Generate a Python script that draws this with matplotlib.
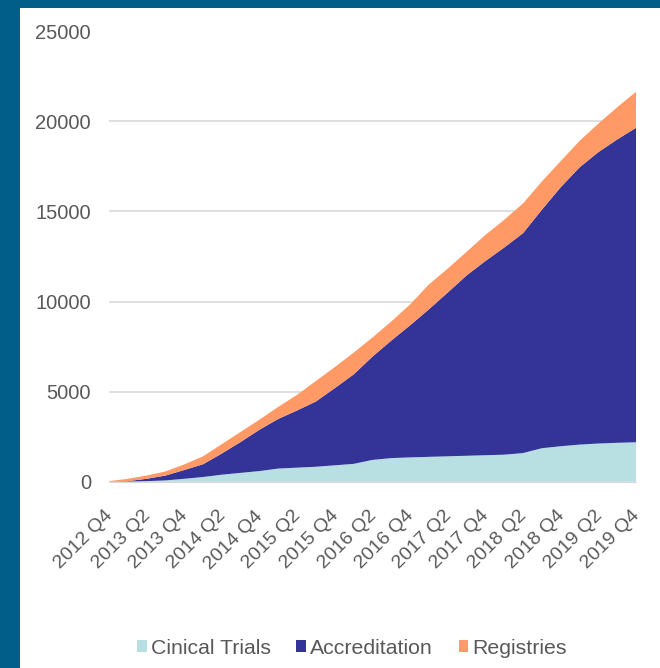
import numpy as np
import matplotlib.pyplot as plt
from matplotlib.patches import Rectangle
from matplotlib.transforms import ScaledTranslation

plt.rcParams['font.family'] = ['Liberation Sans', 'DejaVu Sans']

quarters = ['2012 Q4', '2013 Q1', '2013 Q2', '2013 Q3', '2013 Q4', '2014 Q1', '2014 Q2', '2014 Q3',
            '2014 Q4', '2015 Q1', '2015 Q2', '2015 Q3', '2015 Q4', '2016 Q1', '2016 Q2', '2016 Q3',
            '2016 Q4', '2017 Q1', '2017 Q2', '2017 Q3', '2017 Q4', '2018 Q1', '2018 Q2', '2018 Q3',
            '2018 Q4', '2019 Q1', '2019 Q2', '2019 Q3', '2019 Q4']

clinical = [0, 0, 20, 60, 150, 250, 380, 480, 580, 720, 770, 820, 900, 980, 1200,
            1300, 1340, 1370, 1400, 1430, 1460, 1490, 1580, 1850, 1960, 2050, 2110, 2150, 2180]
accreditation = [0, 20, 130, 270, 490, 710, 1180, 1720, 2300, 2760, 3180, 3630, 4290, 4970, 5740,
                 6530, 7340, 8200, 9100, 10020, 10790, 11510, 12220, 13250, 14390, 15400, 16190, 16850, 17470]
registries = [20, 130, 180, 230, 310, 440, 520, 560, 560, 670, 870, 1140, 1170, 1210, 1060,
              1060, 1160, 1380, 1330, 1310, 1450, 1540, 1650, 1570, 1450, 1470, 1580, 1790, 2000]

labels = ['Cinical Trials', 'Accreditation', 'Registries']
colors = ['#B8E0E3', '#343397', '#FF9966']
text_color = '#595959'

W, H = 660, 668
fig = plt.figure(figsize=(W / 100, H / 100), dpi=100)
fig.patch.set_facecolor('#015E88')
fig.add_artist(Rectangle((20 / W, 0), 640 / W, 660 / H, transform=fig.transFigure,
                         facecolor='white', edgecolor='none', zorder=-1))

ax = fig.add_axes([109 / W, (H - 481.5) / H, (636 - 109) / W, 450 / H])
ax.set_facecolor('none')

x = np.arange(len(quarters))
ax.stackplot(x, clinical, accreditation, registries, colors=colors, labels=labels, zorder=2)

ax.set_xlim(0, len(quarters) - 1)
ax.set_ylim(0, 25000)
ax.set_yticks(np.arange(0, 25001, 5000))
ax.yaxis.grid(True, color='#D9D9D9', linewidth=1.2, zorder=0)
ax.set_axisbelow(True)

for s in ['top', 'right', 'left']:
    ax.spines[s].set_visible(False)
ax.spines['bottom'].set_color('#D9D9D9')
ax.tick_params(axis='both', length=0, colors=text_color, labelsize=14)
ax.tick_params(axis='y', labelsize=14.5, pad=13)
ax.tick_params(axis='x', pad=10)

ax.set_xticks(x[::2])
ax.set_xticklabels(quarters[::2], rotation=45, ha='right', rotation_mode='anchor')
shift = ScaledTranslation(-5 / 100, -12 / 100, fig.dpi_scale_trans)
for lbl in ax.get_xticklabels():
    lbl.set_transform(lbl.get_transform() + shift)

ax.legend(loc='center', bbox_to_anchor=(352 / W, (H - 648) / H), bbox_transform=fig.transFigure,
          ncol=3, frameon=False, fontsize=15.3, labelcolor=text_color,
          handlelength=0.45, handleheight=0.45, handletextpad=0.2, columnspacing=1.2)

fig.savefig('out.png', dpi=100)
